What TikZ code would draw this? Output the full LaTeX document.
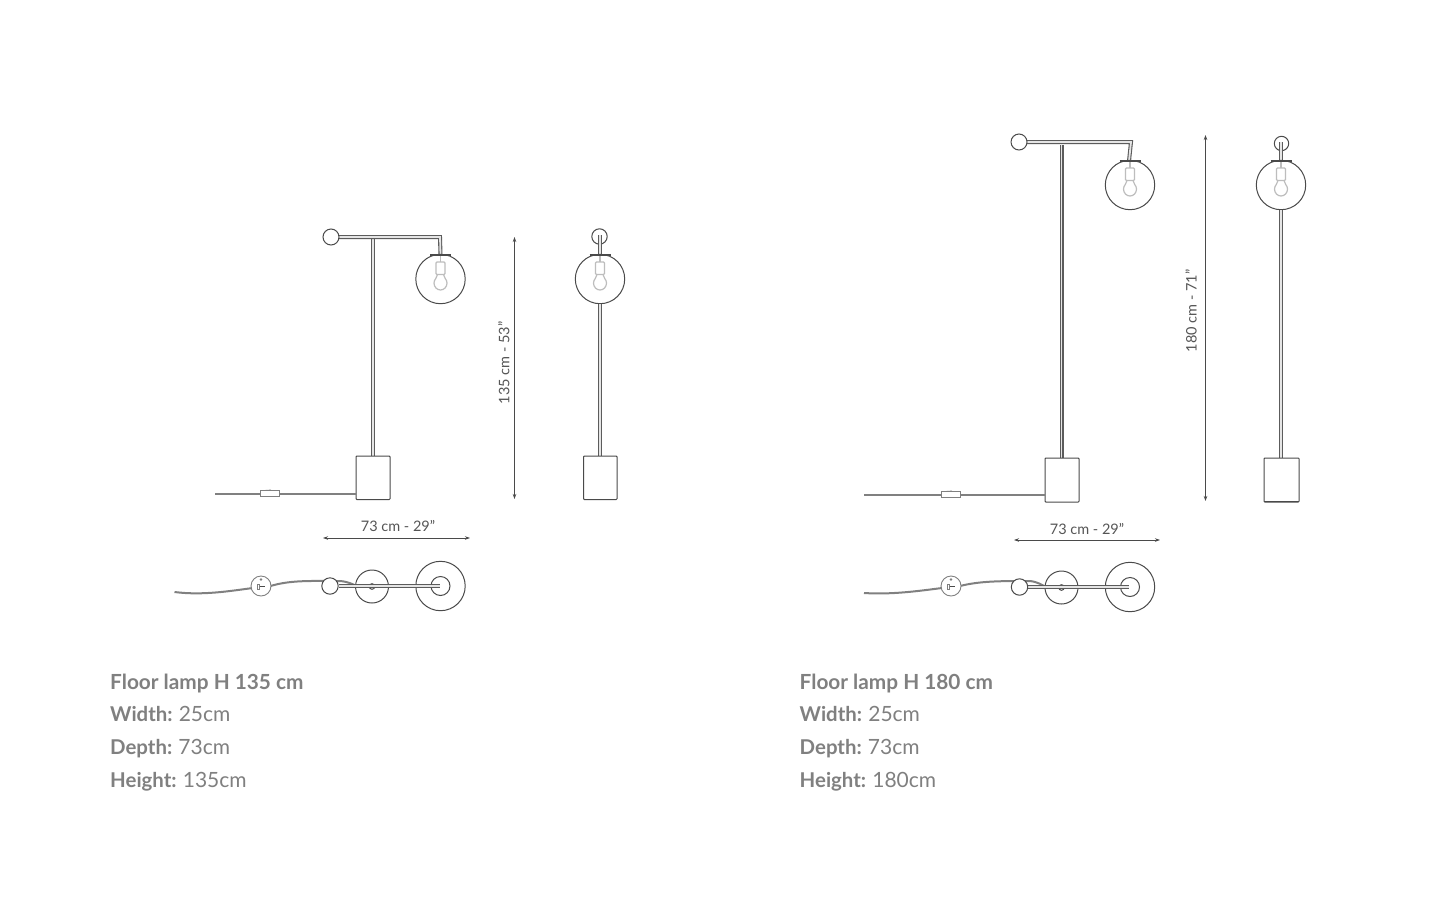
\documentclass[tikz,border=0pt]{standalone}
\usepackage{fontspec}
\setmainfont{Lato}
\usetikzlibrary{arrows.meta}
\definecolor{ink}{HTML}{4A4A4A}
\definecolor{txt}{HTML}{808080}
\definecolor{dimtxt}{HTML}{555555}
\definecolor{soft}{HTML}{BDBDBD}
\tikzset{
  rod/.style={draw=ink!90,line width=1.1pt,double=white!90!black,double distance=1.8pt},
  thin line/.style={draw=ink,line width=1pt},
  softline/.style={draw=soft,line width=1.2pt},
  cord/.style={draw=gray,line width=2pt},
  dimline/.style={draw=ink,line width=0.8pt,{Stealth[length=5pt,width=3.5pt]}-{Stealth[length=5pt,width=3.5pt]}},
  dimlabel/.style={text=dimtxt,font=\fontsize{14.5}{16}\selectfont,inner sep=0pt},
  infotitle/.style={text=txt,font=\fontsize{20.8}{24}\selectfont\bfseries,anchor=base west,inner sep=0pt},
  info/.style={text=txt,font=\fontsize{21}{24}\selectfont,anchor=base west,inner sep=0pt}
}
\newcommand{\lab}[1]{{\fontsize{20.4}{24}\selectfont\bfseries #1}\hspace{-1pt}}
% bulb and glass, origin at the glass centre
\newcommand{\globe}{%
  \draw[softline] (0,-25) -- (0,-17);
  \draw[softline,rounded corners=1pt] (-4.5,-17) rectangle (4.5,-4.5);
  \draw[softline] (-3,-4.5) .. controls (-3,-1) and (-6.5,0) .. (-6.5,4)
    .. controls (-6.5,8) and (-3.5,11) .. (0,11)
    .. controls (3.5,11) and (6.5,8) .. (6.5,4)
    .. controls (6.5,0) and (3,-1) .. (3,-4.5);
  \draw[thin line] (0,0) circle (24.7);
  \draw[draw=ink,line width=2pt] (-10.5,-24) -- (10.5,-24);
}
% switch on a cord seen from above, origin at the switch centre
\newcommand{\topswitch}{%
  \draw[draw=gray,line width=0.9pt,fill=white] (0,0) circle (10);
  \draw[draw=gray,line width=0.7pt] (-4,-2) rectangle (-1.5,3);
  \draw[draw=ink,line width=1pt] (-1.5,0) -- (4,0);
  \draw[draw=gray,line width=0.6pt] (0,-6.5) circle (0.9);
}
% everything seen from above, origin at the big circle centre
\newcommand{\topview}[1]{%
  \draw[cord] #1;
  \draw[thin line] (0,0) circle (24.7);
  \draw[thin line] (0,0) circle (9.5);
  \draw[thin line] (-68.5,0.5) circle (16.5);
  \draw[thin line] (-68.5,0.5) circle (2.8);
  \draw[rod] (-102,0) -- (-1,0);
  \draw[thin line,fill=white] (-110.5,0) circle (8.2);
}
\begin{document}
\begin{tikzpicture}[x=1pt,y=-1pt]
\path[use as bounding box,fill=white] (0,0) rectangle (1440,900);

% ---------- left lamp, side view
\draw[rod] (373,238) -- (373,456);
\draw[rod] (339,237) -- (440,237) -- (440.5,255);
\draw[thin line,fill=white] (331,237) circle (8);
\begin{scope}[shift={(440.5,279)}]\globe\end{scope}
\draw[thin line,rounded corners=0.8pt] (356,456) rectangle (390,499.5);
\draw[cord] (215,493.5) -- (356,493.5);
\draw[draw=gray,line width=0.8pt,fill=white] (260,490.5) rectangle (279,496);
\draw[draw=gray,line width=0.8pt] (264,490.5) -- (271,490);

% ---------- left lamp, front view
\draw[thin line] (599.5,236.5) circle (7.7);
\draw[rod] (600,235) -- (600,255);
\begin{scope}[shift={(600,279)}]\globe\end{scope}
\draw[rod] (600,304) -- (600,456);
\draw[thin line,rounded corners=0.8pt] (583.5,456) rectangle (617,499.5);

% ---------- left dimensions
\coordinate (lvt) at (514.5,237);
\coordinate (lvb) at (514.5,499);
\draw[dimline] (lvt) -- (lvb);
\node[dimlabel,rotate=90] (lvlabel) at (504,363) {135 cm - 53''};
\coordinate (lhl) at (323,538);
\coordinate (lhr) at (470,538);
\draw[dimline] (lhl) -- (lhr);
\node[dimlabel] (lhlabel) at (398,526) {73 cm - 29''};

% ---------- left lamp, top view
\begin{scope}[shift={(440.5,586)}]
\topview{(-266,6) .. controls (-235,10) and (-205,4) .. (-180,1)
   (-170,0) .. controls (-150,-6) and (-130,-5) .. (-100,-5) .. controls (-92,-4) and (-88,-2) .. (-84,0)}
\end{scope}
\begin{scope}[shift={(261,586)}]\topswitch\end{scope}

% ---------- right lamp, side view
\draw[rod] (1061.5,145) -- (1061.5,458);
\draw[rod] (1027,142) -- (1131,142) -- (1129,161);
\draw[thin line,fill=white] (1019,142) circle (8);
\begin{scope}[shift={(1130,185)}]\globe\end{scope}
\draw[thin line,rounded corners=0.8pt] (1045,458) rectangle (1079,502);
\draw[cord] (864,494.5) -- (1045,494.5);
\draw[draw=gray,line width=0.8pt,fill=white] (941,491.5) rectangle (960,497);
\draw[draw=gray,line width=0.8pt] (945,491.5) -- (952,491);

% ---------- right lamp, front view
\draw[thin line] (1281.5,143.5) circle (7.2);
\draw[rod] (1281,142) -- (1281,161);
\begin{scope}[shift={(1281,185)}]\globe\end{scope}
\draw[rod] (1281,210) -- (1281,458);
\draw[thin line,rounded corners=0.8pt] (1264,458) rectangle (1299,502);
\draw[draw=ink,line width=1.6pt] (1264,501.5) -- (1299,501.5);

% ---------- right dimensions
\coordinate (rvt) at (1205.5,135);
\coordinate (rvb) at (1205.5,501);
\draw[dimline] (rvt) -- (rvb);
\node[dimlabel,rotate=90] (rvlabel) at (1191,311) {180 cm - 71''};
\coordinate (rhl) at (1014,540);
\coordinate (rhr) at (1160,540);
\draw[dimline] (rhl) -- (rhr);
\node[dimlabel] (rhlabel) at (1087,529) {73 cm - 29''};

% ---------- right lamp, top view
\begin{scope}[shift={(1130,587)}]
\topview{(-266,6) .. controls (-235,8) and (-205,3) .. (-180,0)
   (-170,-1) .. controls (-150,-6) and (-130,-6) .. (-100,-6) .. controls (-92,-5) and (-88,-2) .. (-84,0)}
\end{scope}
\begin{scope}[shift={(951,586)}]\topswitch\end{scope}

% ---------- captions
\node[infotitle] (lt) at (110,689) {Floor lamp H 135 cm};
\node[info] (lw) at (110,721.5) {\lab{Width:} 25cm};
\node[info] (ld) at (110,754.5) {\lab{Depth:} 73cm};
\node[info] (lh) at (110,787) {\lab{Height:} 135cm};
\node[infotitle] (rt) at (799.5,689) {Floor lamp H 180 cm};
\node[info] (rw) at (799.5,721.5) {\lab{Width:} 25cm};
\node[info] (rd) at (799.5,754.5) {\lab{Depth:} 73cm};
\node[info] (rh) at (799.5,787) {\lab{Height:} 180cm};
\end{tikzpicture}
\end{document}
